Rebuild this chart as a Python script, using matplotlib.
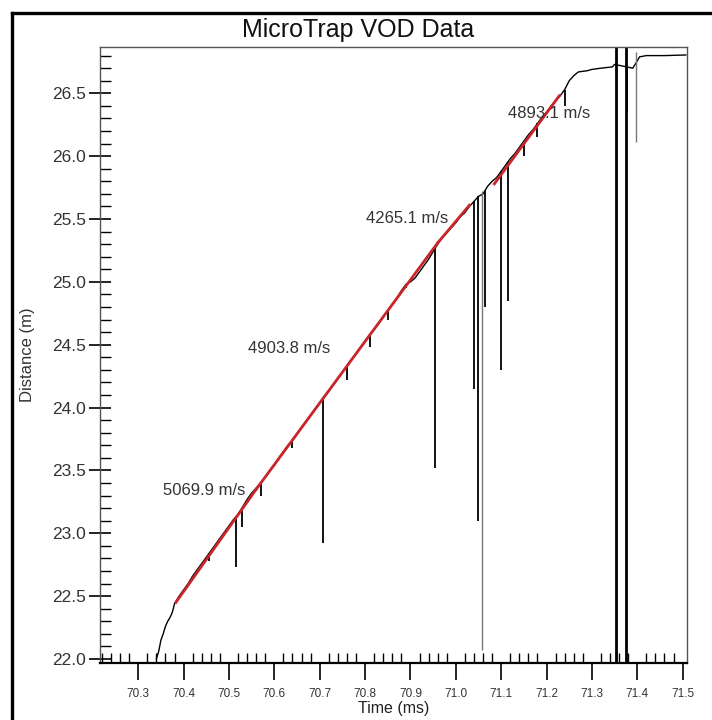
import matplotlib
matplotlib.use("Agg")
import matplotlib.pyplot as plt
import numpy as np
from matplotlib.lines import Line2D

plt.rcParams['font.family'] = ['Liberation Sans', 'DejaVu Sans']

# measured trace (time in ms, distance in m)
time_ms = [70.340, 70.345, 70.350, 70.355, 70.360, 70.365, 70.370, 70.375, 70.380,
           70.39, 70.40, 70.41, 70.42, 70.43, 70.44, 70.45, 70.46, 70.47, 70.48,
           70.49, 70.50, 70.51, 70.52, 70.53, 70.54, 70.55, 70.56, 70.57, 70.58,
           70.59, 70.60, 70.61, 70.62, 70.63, 70.64, 70.65, 70.66, 70.67, 70.68,
           70.69, 70.70, 70.71, 70.72, 70.73, 70.74, 70.75, 70.76, 70.77, 70.78,
           70.79, 70.80, 70.81, 70.82, 70.83, 70.84, 70.85, 70.86, 70.87, 70.88,
           70.89, 70.90, 70.91, 70.92, 70.93, 70.94, 70.95, 70.96, 70.97, 70.98,
           70.99, 71.00, 71.01, 71.02, 71.03, 71.04, 71.05, 71.06, 71.07, 71.08,
           71.09, 71.10, 71.11, 71.12, 71.13, 71.14, 71.15, 71.16, 71.17, 71.18,
           71.19, 71.20, 71.21, 71.22, 71.23, 71.24, 71.25, 71.26, 71.27, 71.29,
           71.30, 71.32, 71.345, 71.35, 71.39, 71.397, 71.405, 71.42, 71.46, 71.507]
dist_m = [22.00, 22.06, 22.15, 22.20, 22.26, 22.30, 22.33, 22.37, 22.44,
          22.50, 22.55, 22.60, 22.66, 22.71, 22.76, 22.81, 22.86, 22.91, 22.96,
          23.01, 23.06, 23.11, 23.15, 23.21, 23.27, 23.32, 23.36, 23.40, 23.45,
          23.50, 23.54, 23.60, 23.65, 23.70, 23.74, 23.79, 23.84, 23.89, 23.94,
          23.99, 24.04, 24.09, 24.13, 24.18, 24.23, 24.28, 24.33, 24.38, 24.43,
          24.48, 24.53, 24.58, 24.62, 24.67, 24.72, 24.77, 24.82, 24.87, 24.93,
          24.98, 25.00, 25.03, 25.08, 25.13, 25.18, 25.24, 25.30, 25.35, 25.39,
          25.43, 25.47, 25.52, 25.55, 25.60, 25.64, 25.68, 25.70, 25.76, 25.80,
          25.83, 25.88, 25.93, 25.98, 26.02, 26.07, 26.12, 26.17, 26.21, 26.26,
          26.31, 26.35, 26.40, 26.44, 26.48, 26.53, 26.60, 26.64, 26.67, 26.68,
          26.69, 26.70, 26.71, 26.73, 26.70, 26.74, 26.79, 26.80, 26.80, 26.805]

# dropouts: time and lowest distance reached
spike_t = [70.457, 70.515, 70.529, 70.57, 70.64, 70.707, 70.76, 70.81, 70.85, 70.891,
           70.955, 71.04, 71.05, 71.065, 71.10, 71.115, 71.15, 71.18, 71.24, 71.378]
spike_low = [22.78, 22.73, 23.05, 23.30, 23.68, 22.92, 24.22, 24.48, 24.70, 24.95,
             23.52, 24.15, 23.10, 24.80, 24.30, 24.85, 26.00, 26.15, 26.40, 26.35]
# faint long dropouts
thin_t = [71.058, 71.397]
thin_low = [22.07, 26.11]
thin_high = [25.72, 26.83]
# full-scale dropouts
full_t = [71.354, 71.376]

# velocity fits
fit_t0 = [70.383, 70.560, 70.960, 71.085]
fit_t1 = [70.560, 70.960, 71.030, 71.228]
fit_d0 = [22.45, 23.35, 25.31, 25.78]
fit_d1 = [23.35, 25.31, 25.61, 26.48]
fit_labels = ['5069.9 m/s', '4903.8 m/s', '4265.1 m/s', '4893.1 m/s']
label_t = [70.354, 70.543, 70.801, 71.116]
label_d = [23.344, 24.466, 25.508, 26.336]

xtick_vals = [70.3, 70.4, 70.5, 70.6, 70.7, 70.8, 70.9, 71.0, 71.1, 71.2, 71.3, 71.4, 71.5]
xtick_labels = ['70.3', '70.4', '70.5', '70.6', '70.7', '70.8', '70.9', '71.0',
                '71.1', '71.2', '71.3', '71.4', '71.5']
ytick_vals = [22.0, 22.5, 23.0, 23.5, 24.0, 24.5, 25.0, 25.5, 26.0, 26.5]

fig = plt.figure(figsize=(7.12, 7.20), dpi=100)
ax = fig.add_axes([0.1404, 0.0792, 0.8241, 0.8551])

ax.plot(time_ms, dist_m, color='black', lw=1.0, zorder=2)
top = np.interp(spike_t, time_ms, dist_m)
ax.vlines(spike_t, spike_low, top, color='black', lw=1.3, zorder=2)
ax.vlines(thin_t, thin_low, thin_high, color='#777777', lw=1.0, zorder=2)
ax.vlines(full_t, 21.9, 27.0, color='black', lw=2.0, zorder=2)

for i in range(len(fit_t0)):
    ax.plot([fit_t0[i], fit_t1[i]], [fit_d0[i], fit_d1[i]], color='#c8262b', lw=2.0, zorder=3)
for i in range(len(fit_labels)):
    ax.text(label_t[i], label_d[i], fit_labels[i], fontsize=12, color='#333333',
            va='center', ha='left', zorder=4)

ax.set_xlim(70.2156, 71.509)
ax.set_ylim(21.968, 26.866)

ax.set_xticks(xtick_vals)
ax.set_xticklabels(xtick_labels)
ax.set_xticks(np.arange(70.22, 71.51, 0.02), minor=True)
ax.set_yticks(ytick_vals)
ax.set_yticks(np.arange(22.0, 26.85, 0.1), minor=True)

ax.tick_params(axis='x', which='major', direction='out', length=12, width=1.2,
               labelsize=8.5, labelcolor='#333333', pad=6)
ax.tick_params(axis='x', which='minor', direction='in', length=7, width=1.0)
ax.tick_params(axis='y', which='major', direction='inout', length=16, width=1.2,
               labelsize=12.5, labelcolor='#333333', pad=2)
ax.tick_params(axis='y', which='minor', direction='in', length=8, width=1.0)

for s in ['top', 'right', 'left']:
    ax.spines[s].set_color('#555555')
    ax.spines[s].set_linewidth(1.0)
ax.spines['bottom'].set_linewidth(1.6)

ax.set_xlabel('Time (ms)', fontsize=11.5, color='#222222', labelpad=1)
ax.set_ylabel('Distance (m)', fontsize=12, color='#333333', labelpad=12)

fig.text(0.503, 0.958, 'MicroTrap VOD Data', fontsize=18, ha='center', va='center',
         color='#111111')

# outer frame of the original figure
fig.add_artist(Line2D([0.017, 0.017], [0.0, 0.982], color='black', lw=2.4))
fig.add_artist(Line2D([0.017, 1.0], [0.982, 0.982], color='black', lw=2.4))

fig.savefig('out.png', dpi=100)
